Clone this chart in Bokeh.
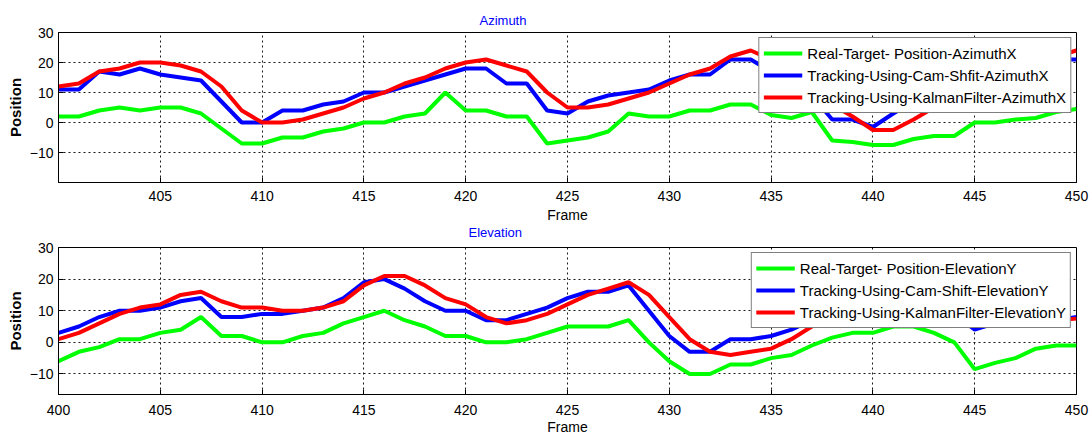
from bokeh.plotting import figure
from bokeh.models import Range1d, FixedTicker, Legend, LegendItem, Title
from bokeh.layouts import column
from bokeh.embed import file_html
from bokeh.resources import INLINE

frames = list(range(400, 451))

az_real = [2, 2, 4, 5, 4, 5, 5, 3, -2, -7, -7, -5, -5, -3, -2, 0, 0, 2, 3, 10, 4, 4, 2, 2, -7,
           -6, -5, -3, 3, 2, 2, 4, 4, 6, 6, 2.5, 1.5, 3.5, -6, -6.5, -7.5, -7.5, -5.5, -4.5, -4.5,
           0, 0, 1, 1.5, 3.5, 4.5]
az_cam = [11, 11, 17, 16, 18, 16, 15, 14, 7, 0, 0, 4, 4, 6, 7, 10, 10, 12, 14, 16, 18, 18, 13, 13, 4,
          3, 7, 9, 10, 11, 14, 16, 16, 21, 21, 17, 13, 9, 1, 1, -1.5, 3, 7, 10, 13,
          15, 17, 18, 19, 21, 21]
az_kal = [12, 13, 17, 18, 20, 20, 19, 17, 12, 4, 0, 0, 1, 3, 5, 8, 10, 13, 15, 18, 20, 21, 19, 17, 10,
          5, 5, 6, 8, 10, 13, 16, 18, 22, 24, 21, 16, 11, 6, 2, -2.5, -2.5, 1, 5, 9,
          13, 16, 18, 20, 22, 24]

el_real = [-6, -3, -1.5, 1, 1, 3, 4, 8, 2, 2, 0, 0, 2, 3, 6, 8, 10, 7, 5, 2, 2, 0, 0, 1, 3,
           5, 5, 5, 7, 0, -6, -10, -10, -7, -7, -5, -4, -1, 1.5, 3, 3, 5, 5, 3, 0,
           -8.5, -6.5, -5, -2, -1, -1]
el_cam = [3, 5, 8, 10, 10, 11, 13, 14, 8, 8, 9, 9, 10, 11, 14, 19, 20, 17, 13, 10, 10, 7, 7, 9, 11,
          14, 16, 16, 18, 10, 2, -3, -3, 1, 1, 2, 4, 7, 10, 12, 13, 14, 13, 11, 9,
          4, 6, 6, 6, 7, 8]
el_kal = [1, 3, 6, 9, 11, 12, 15, 16, 13, 11, 11, 10, 10, 11, 13, 18, 21, 21, 18, 14, 12, 8, 6, 7, 9,
          12, 15, 17, 19, 15, 8, 1, -3, -4, -3, -2, 1, 5, 9, 11, 12, 13, 13, 11, 8,
          7, 5.5, 5.5, 5.5, 7, 7.5]

az_labels = ["Real-Target- Position-AzimuthX", "Tracking-Using-Cam-Shfit-AzimuthX",
             "Tracking-Using-KalmanFilter-AzimuthX"]
el_labels = ["Real-Target- Position-ElevationY", "Tracking-Using-Cam-Shift-ElevationY",
             "Tracking-Using-KalmanFilter-ElevationY"]

y_ticks = [-10, 0, 10, 20, 30]
x_ticks_top = [405, 410, 415, 420, 425, 430, 435, 440, 445, 450]
x_ticks_bottom = [400, 405, 410, 415, 420, 425, 430, 435, 440, 445, 450]

FONT = "Liberation Sans"
COLORS = ["#00ff00", "#0000ff", "#ff0000"]
BLUE_TXT = "#0000ff"


def style_axis(ax):
    ax.major_tick_in = 5
    ax.major_tick_out = 0
    ax.minor_tick_in = 0
    ax.minor_tick_out = 0
    ax.minor_tick_line_color = None
    ax.axis_line_color = "black"
    ax.major_tick_line_color = "black"
    ax.major_label_text_font = FONT
    ax.major_label_text_font_size = "14px"
    ax.major_label_text_color = "black"
    ax.axis_label_text_font = FONT
    ax.axis_label_text_color = "black"


def style_title(t, offset, standoff):
    t.text_color = BLUE_TXT
    t.text_font = FONT
    t.text_font_size = "13px"
    t.text_font_style = "normal"
    t.align = "left"
    t.offset = offset
    t.standoff = standoff


def make_fig(ymin, xticks, series, labels, height, top_border, bottom_border,
             tick_standoff, xlabel_standoff, legend_margin):
    p = figure(width=1092, height=height, output_backend="svg", toolbar_location=None,
               x_range=Range1d(400, 450), y_range=Range1d(ymin, 30),
               min_border_left=58, min_border_right=16, min_border_top=top_border,
               min_border_bottom=bottom_border)
    p.outline_line_color = "black"
    p.outline_line_width = 1
    p.background_fill_color = "white"
    p.border_fill_color = "white"

    p.xaxis.ticker = FixedTicker(ticks=xticks)
    p.yaxis.ticker = FixedTicker(ticks=y_ticks)
    style_axis(p.xaxis[0])
    style_axis(p.yaxis[0])
    p.xaxis.major_label_standoff = tick_standoff
    p.yaxis.major_label_standoff = 5
    p.xaxis.axis_label = "Frame"
    p.xaxis.axis_label_text_font_size = "14px"
    p.xaxis.axis_label_text_font_style = "normal"
    p.xaxis.axis_label_standoff = xlabel_standoff
    p.yaxis.axis_label = "Position"
    p.yaxis.axis_label_text_font_size = "15px"
    p.yaxis.axis_label_text_font_style = "bold"
    p.yaxis.axis_label_standoff = 3

    for g in (p.xgrid, p.ygrid):
        g.grid_line_color = "black"
        g.grid_line_dash = "2 3"
        g.grid_line_width = 1
        g.grid_line_alpha = 0.9
    p.xgrid.ticker = FixedTicker(ticks=x_ticks_bottom)

    items = []
    for vals, col, lab in zip(series, COLORS, labels):
        r = p.line(frames, vals, line_color=col, line_width=4)
        items.append(LegendItem(label=lab, renderers=[r]))
    leg = Legend(items=items, location="top_right")
    leg.border_line_color = "black"
    leg.border_line_width = 1
    leg.background_fill_color = "white"
    leg.background_fill_alpha = 1
    leg.label_text_font = FONT
    leg.label_text_font_size = "15px"
    leg.label_text_color = "black"
    leg.glyph_width = 39
    leg.glyph_height = 22
    leg.label_height = 22
    leg.spacing = 0
    leg.padding = 4
    leg.margin = legend_margin
    leg.label_standoff = 5
    p.add_layout(leg)
    return p


# top panel: frame 32..182
p1 = make_fig(-20, x_ticks_top, [az_real, az_cam, az_kal], az_labels,
              238, 32, 56, 8, 3, 5)
p1.title.text = "Azimuth"
style_title(p1.title, 421, 10)

# title of the lower panel, stacked right under the upper panel's "Frame" label
t2 = Title(text="Elevation")
style_title(t2, 410, -6)
p1.add_layout(t2, "below")

# bottom panel: frame 247..394
p2 = make_fig(-16.5, x_ticks_bottom, [el_real, el_cam, el_kal], el_labels,
              201, 9, 45, 10, 1, 5)

layout = column(p1, p2, spacing=0)
open("out.html", "w").write(file_html(layout, INLINE))
